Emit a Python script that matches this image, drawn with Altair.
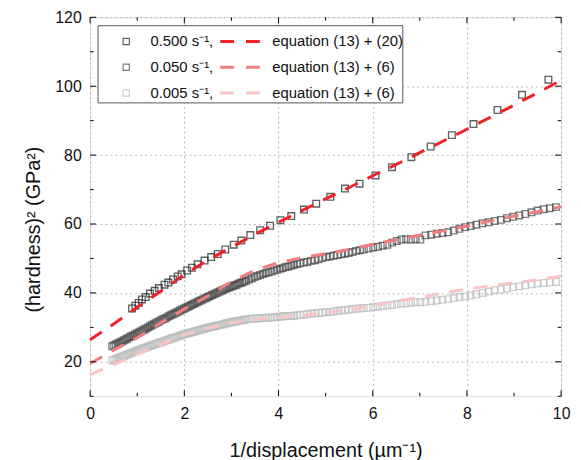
import altair as alt
import pandas as pd

FONT = "Liberation Sans"

rates = ["0.500", "0.050", "0.005"]
fit_keys = ["fit 0.500", "fit 0.050", "fit 0.005"]
fit_names = ["equation (13) + (20)", "equation (13) + (6)", "equation (13) + (6)"]
marker_colors = ["#1e1e1e", "#444444", "#bbbbbb"]
line_colors = ["#ee2229", "#f37c7c", "#f8c4c4"]

x_ticks_major = [0, 2, 4, 6, 8, 10]
x_ticks_minor = [1, 3, 5, 7, 9]
y_ticks_major = [20, 40, 60, 80, 100, 120]
y_ticks_minor = [10, 30, 50, 70, 90, 110]

# 0.500 s^-1 data
x_fast = [0.89, 0.96, 1.03, 1.10, 1.18, 1.27, 1.37, 1.46, 1.58, 1.66, 1.76, 1.86, 1.94, 2.06,
          2.16, 2.28, 2.43, 2.57, 2.71, 2.87, 3.05, 3.21, 3.40, 3.61, 3.82, 4.04, 4.27, 4.54,
          4.80, 5.10, 5.41, 5.72, 6.06, 6.41, 6.82, 7.23, 7.68, 8.14, 8.65, 9.17, 9.73]
y_fast = [35.5, 36.3, 37.1, 38.1, 38.8, 39.8, 40.6, 41.4, 42.4, 43.0, 43.9, 44.8, 45.4, 46.5,
          47.3, 48.3, 49.4, 50.4, 51.3, 52.6, 54.0, 55.2, 56.8, 58.2, 59.5, 61.1, 62.3, 64.2,
          65.9, 67.9, 70.3, 71.7, 74.1, 76.5, 79.4, 82.5, 85.8, 89.0, 93.1, 97.5, 101.9]

# 0.050 and 0.005 s^-1 data (same displacement sampling)
x_slow = [0.47, 0.51, 0.55, 0.59, 0.63, 0.67, 0.71, 0.75, 0.79, 0.83, 0.87, 0.91, 0.95, 0.99,
          1.03, 1.07, 1.11, 1.15, 1.19, 1.23, 1.27, 1.31, 1.35, 1.39, 1.43, 1.47,
          1.51, 1.55, 1.59, 1.63, 1.67, 1.71, 1.75, 1.79, 1.83, 1.87, 1.91, 1.95, 1.99,
          2.03, 2.07, 2.11, 2.15, 2.19, 2.23, 2.27, 2.31, 2.35, 2.39, 2.43, 2.47,
          2.51, 2.55, 2.59, 2.63, 2.67, 2.71, 2.75, 2.79, 2.83, 2.87, 2.91, 2.95, 2.99,
          3.03, 3.07, 3.11, 3.15, 3.19, 3.23, 3.27, 3.31,
          3.37, 3.43, 3.49, 3.55, 3.61, 3.67, 3.73, 3.79, 3.85, 3.91, 3.97, 4.03, 4.09, 4.15,
          4.21, 4.27, 4.33, 4.39, 4.45,
          4.53, 4.61, 4.69, 4.77, 4.85, 4.93, 5.01, 5.09, 5.17, 5.25, 5.33, 5.41, 5.49, 5.57,
          5.65, 5.73, 5.81,
          5.91, 6.01, 6.11, 6.21, 6.31, 6.41, 6.51, 6.61, 6.71, 6.81, 6.91, 7.01,
          7.12, 7.24, 7.36, 7.48, 7.60, 7.72, 7.84, 7.96, 8.08, 8.20,
          8.33, 8.46, 8.59, 8.72, 8.85, 8.98, 9.11, 9.24, 9.37, 9.50, 9.63, 9.76, 9.89]
y_mid = [24.5, 24.8, 25.1, 25.3, 25.6, 25.9, 26.2, 26.5, 26.8, 27.1, 27.4, 27.6, 27.9, 28.2,
         28.5, 28.8, 29.1, 29.4, 29.7, 30.0, 30.3, 30.6, 30.9, 31.2, 31.5, 31.8,
         32.1, 32.4, 32.6, 32.9, 33.2, 33.5, 33.8, 34.0, 34.3, 34.6, 34.9, 35.2, 35.4,
         35.7, 36.0, 36.2, 36.5, 36.8, 37.0, 37.3, 37.6, 37.8, 38.1, 38.4, 38.6,
         38.9, 39.1, 39.4, 39.6, 39.9, 40.1, 40.4, 40.6, 40.9, 41.1, 41.4, 41.6, 41.8,
         42.0, 42.2, 42.4, 42.7, 42.9, 43.1, 43.3, 43.5,
         43.9, 44.2, 44.6, 44.9, 45.2, 45.5, 45.8, 46.0, 46.2, 46.5, 46.7, 47.0, 47.2, 47.5,
         47.7, 47.9, 48.2, 48.4, 48.6,
         48.8, 49.0, 49.3, 49.5, 49.8, 50.1, 50.4, 50.6, 50.8, 51.0, 51.2, 51.4, 51.6, 51.9,
         52.2, 52.4, 52.6,
         52.9, 53.2, 53.4, 53.7, 54.0, 54.6, 55.1, 55.5, 55.6, 55.5, 55.6, 55.5,
         56.7, 56.9, 57.2, 57.4, 57.6, 58.1, 58.6, 59.1, 59.4, 59.8,
         60.2, 60.5, 60.9, 61.2, 61.7, 62.1, 62.5, 62.9, 63.4, 63.9, 64.3, 64.6, 64.9]
y_slow = [20.4, 20.6, 20.8, 21.1, 21.3, 21.5, 21.7, 21.9, 22.1, 22.3, 22.6, 22.8, 23.0, 23.2,
          23.4, 23.6, 23.8, 24.0, 24.2, 24.4, 24.6, 24.8, 25.0, 25.2, 25.4, 25.6,
          25.7, 25.9, 26.1, 26.3, 26.5, 26.7, 26.9, 27.0, 27.2, 27.4, 27.6, 27.8, 28.0,
          28.1, 28.3, 28.4, 28.6, 28.7, 28.9, 29.0, 29.2, 29.3, 29.5, 29.6, 29.8,
          29.9, 30.1, 30.2, 30.3, 30.4, 30.6, 30.7, 30.8, 30.9, 31.1, 31.2, 31.3, 31.5,
          31.6, 31.7, 31.8, 31.9, 32.0, 32.1, 32.2, 32.3,
          32.4, 32.5, 32.6, 32.6, 32.7, 32.7, 32.8, 32.8, 32.9, 32.9, 33.0, 33.1, 33.2, 33.2,
          33.3, 33.3, 33.4, 33.5, 33.6,
          33.7, 33.8, 34.0, 34.1, 34.2, 34.3, 34.4, 34.5, 34.6, 34.8, 34.9, 35.0, 35.1, 35.3,
          35.4, 35.5, 35.6,
          35.7, 35.9, 36.0, 36.2, 36.4, 36.5, 36.7, 36.9, 37.0, 37.2, 37.3, 37.3,
          37.4, 37.6, 37.8, 38.0, 38.2, 38.5, 38.8, 39.0, 39.3, 39.6,
          40.0, 40.4, 40.8, 41.0, 41.3, 41.7, 41.9, 42.2, 42.5, 42.7, 42.9, 43.1, 43.2]

# fitted curves
x_fit = [0, 0.5, 1, 1.5, 2, 2.5, 3, 3.5, 4, 4.5, 5, 5.5, 6, 6.5, 7, 7.5, 8, 8.5, 9, 9.5, 10]
y_fit_fast = [26.4, 31.0, 35.8, 40.5, 45.3, 49.5, 53.3, 57.0, 60.5, 63.9, 67.3, 70.6, 74.0,
              77.3, 80.7, 84.1, 87.5, 91.0, 94.5, 98.1, 101.7]
y_fit_mid = [19.5, 23.4, 27.0, 31.3, 35.3, 39.1, 43.3, 46.6, 48.8, 50.2, 51.4, 52.6, 54.1,
             55.4, 56.8, 58.0, 59.4, 60.9, 62.3, 63.6, 65.0]
y_fit_slow = [16.3, 19.2, 22.2, 25.0, 27.9, 29.8, 31.3, 32.3, 32.9, 33.5, 34.3, 35.1, 36.2,
              37.6, 38.7, 40.0, 41.1, 42.1, 42.9, 43.8, 44.9]

for a, b in [(x_fast, y_fast), (x_slow, y_mid), (x_slow, y_slow)]:
    assert len(a) == len(b), (len(a), len(b))

# long tables; slowest drawn first
pts = pd.concat([
    pd.DataFrame({"x": x_slow, "y": y_slow, "rate": rates[2]}),
    pd.DataFrame({"x": x_slow, "y": y_mid, "rate": rates[1]}),
    pd.DataFrame({"x": x_fast, "y": y_fast, "rate": rates[0]}),
], ignore_index=True)
fits = pd.concat([
    pd.DataFrame({"x": x_fit, "y": y_fit_slow, "fit": fit_keys[2]}),
    pd.DataFrame({"x": x_fit, "y": y_fit_mid, "fit": fit_keys[1]}),
    pd.DataFrame({"x": x_fit, "y": y_fit_fast, "fit": fit_keys[0]}),
], ignore_index=True)

W, H = 476, 383

xscale = alt.Scale(domain=[0, 10], nice=False, zero=False)
yscale = alt.Scale(domain=[10, 120], nice=False, zero=False)

x_axis = alt.Axis(values=x_ticks_major, grid=True, gridColor="#b8b8b8", gridDash=[2, 3],
                  gridWidth=1, ticks=False, tickSize=0, domain=False, labelFlush=False,
                  labelFontSize=16, labelFont=FONT, labelColor="#111", labelPadding=9,
                  title="1/displacement (µm⁻¹)", titleFontSize=20, titleFont=FONT,
                  titleFontWeight="normal", titleColor="#111", titlePadding=20)
y_axis = alt.Axis(values=y_ticks_major, grid=True, gridColor="#b8b8b8", gridDash=[2, 3],
                  gridWidth=1, ticks=False, tickSize=0, domain=False, labelFlush=False,
                  labelFontSize=16, labelFont=FONT, labelColor="#111", labelPadding=9,
                  title="(hardness)² (GPa²)", titleFontSize=20, titleFont=FONT,
                  titleFontWeight="normal", titleColor="#111", titlePadding=11,
                  titleY=214)


def X(field):
    return alt.X(f"{field}:Q", scale=xscale, axis=x_axis)


def Y(field):
    return alt.Y(f"{field}:Q", scale=yscale, axis=y_axis)


marker_label_expr = "datum.label + ' s⁻¹,'"
fit_label_expr = " : ".join(
    [f"datum.label == '{k}' ? '{n}'" for k, n in zip(fit_keys[:-1], fit_names[:-1])]
) + f" : '{fit_names[-1]}'"

legend_box = alt.Chart(alt.Data(values=[{"k": 1}])).mark_rect(
    fill="white", stroke="#555555", strokeWidth=1
).encode(x=alt.value(8), x2=alt.value(316), y=alt.value(8.5), y2=alt.value(86.5))

points = alt.Chart(pts).mark_point(shape="square", filled=False, size=45, strokeWidth=1.35).encode(
    x=X("x"), y=Y("y"),
    stroke=alt.Stroke("rate:N", scale=alt.Scale(domain=rates, range=marker_colors),
                      legend=alt.Legend(title=None, orient="none", legendX=29, legendY=17,
                                        symbolType="square", symbolSize=40,
                                        symbolStrokeWidth=1.2, symbolFillColor="white",
                                        labelFont=FONT, labelFontSize=15, labelColor="#111",
                                        labelOffset=17, rowPadding=10, padding=0,
                                        clipHeight=15, labelExpr=marker_label_expr)),
)

lines = alt.Chart(fits).mark_line(strokeDash=[14, 11], strokeWidth=3).encode(
    x=X("x"), y=Y("y"),
    color=alt.Color("fit:N", scale=alt.Scale(domain=fit_keys, range=line_colors),
                    legend=alt.Legend(title=None, orient="none", legendX=130, legendY=17,
                                      symbolType="stroke", symbolSize=1600,
                                      symbolStrokeWidth=3, symbolDash=[14, 12],
                                      labelFont=FONT, labelFontSize=15, labelColor="#111",
                                      labelOffset=11, rowPadding=10, padding=0,
                                      clipHeight=15, labelExpr=fit_label_expr)),
)


def xticks(values, length, top):
    y0, y1 = (0, length) if top else (H, H - length)
    return alt.Chart(pd.DataFrame({"v": values})).mark_rule(color="black", strokeWidth=1).encode(
        x=X("v"), y=alt.value(y0), y2=alt.value(y1))


def yticks(values, length, right):
    x0, x1 = (W, W - length) if right else (0, length)
    return alt.Chart(pd.DataFrame({"v": values})).mark_rule(color="black", strokeWidth=1).encode(
        y=Y("v"), x=alt.value(x0), x2=alt.value(x1))


tick_layers = [
    xticks(x_ticks_major, 6, False), xticks(x_ticks_minor, 3.5, False),
    xticks(x_ticks_major, 6, True), xticks(x_ticks_minor, 3.5, True),
    yticks(y_ticks_major, 6, False), yticks(y_ticks_minor, 3.5, False),
    yticks(y_ticks_major, 6, True), yticks(y_ticks_minor, 3.5, True),
]

chart = alt.layer(legend_box, points, lines, *tick_layers).properties(
    width=W, height=H,
    autosize=alt.AutoSizeParams(type="none"),
    padding={"left": 83, "top": 7, "right": 12, "bottom": 62},
).configure_view(stroke="black", strokeWidth=1.3).configure(background="white")

chart.save("out.html", embed_options={"renderer": "svg", "actions": False})
